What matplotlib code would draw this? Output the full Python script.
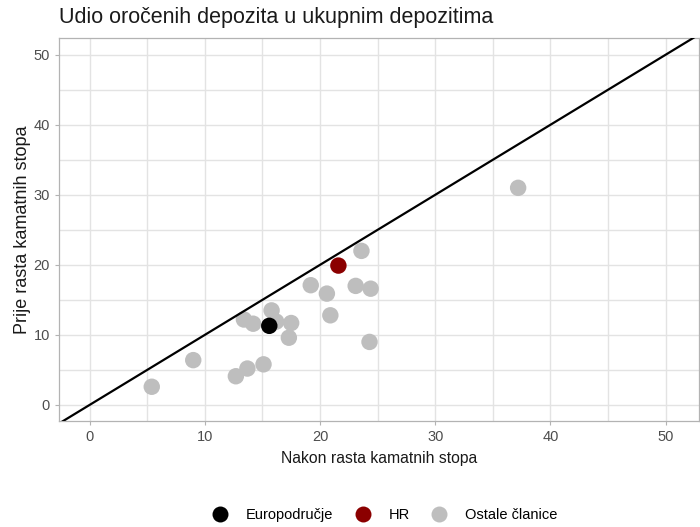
import matplotlib
matplotlib.use("Agg")
import matplotlib.pyplot as plt
from matplotlib.lines import Line2D
import numpy as np

plt.rcParams['font.family'] = ['Liberation Sans', 'DejaVu Sans']

# Data: x = after rate increase, y = before rate increase
other_x = [5.4, 9.0, 12.7, 13.7, 15.1, 13.4, 14.2, 15.8, 16.2, 17.5, 17.3,
           19.2, 20.6, 20.9, 23.6, 23.1, 24.4, 24.3, 37.2]
other_y = [2.6, 6.4, 4.1, 5.2, 5.8, 12.2, 11.6, 13.5, 11.9, 11.7, 9.6,
           17.1, 15.9, 12.8, 22.0, 17.0, 16.6, 9.0, 31.0]
ea_x = [15.6]
ea_y = [11.3]
hr_x = [21.6]
hr_y = [19.9]

categories = ["Europodručje", "HR", "Ostale članice"]
colors = ["#000000", "#8b0000", "#bebebe"]

fig = plt.figure(figsize=(7.0, 5.27), dpi=100)
ax = fig.add_axes([0.0843, 0.201, 0.9143, 0.727])

xlim = (-2.65, 52.9)
ylim = (-2.3, 52.4)
ax.set_xlim(*xlim)
ax.set_ylim(*ylim)

# grid
for v in np.arange(0, 55, 5):
    ax.axvline(v, color="#e3e3e3", lw=1.0, zorder=0)
    ax.axhline(v, color="#e3e3e3", lw=1.0, zorder=0)

ms = 140
ax.scatter(other_x, other_y, s=ms, color=colors[2], edgecolors="none", zorder=2)
ax.scatter(ea_x, ea_y, s=ms, color=colors[0], edgecolors="none", zorder=3)
ax.scatter(hr_x, hr_y, s=ms, color=colors[1], edgecolors="none", zorder=3)

# 45-degree line
lims = np.array([-5, 60])
ax.plot(lims, lims, color="black", lw=1.6, zorder=4)

ax.set_xticks([0, 10, 20, 30, 40, 50])
ax.set_yticks([0, 10, 20, 30, 40, 50])
ax.tick_params(axis="both", colors="#b3b3b3", labelcolor="#4d4d4d",
               labelsize=10.5, length=3, width=0.8)
for s in ax.spines.values():
    s.set_color("#b3b3b3")
    s.set_linewidth(0.9)

ax.set_xlabel("Nakon rasta kamatnih stopa", fontsize=11.3, color="#1a1a1a", labelpad=5)
ax.set_ylabel("Prije rasta kamatnih stopa", fontsize=13, color="#1a1a1a", labelpad=2)

fig.text(59/700, 1 - 18/527, "Udio oročenih depozita u ukupnim depozitima",
         fontsize=15.5, color="#1a1a1a", va="center", ha="left")

handles = [Line2D([0], [0], marker="o", linestyle="none", markersize=11.5,
                  markerfacecolor=c, markeredgecolor="none") for c in colors]
fig.legend(handles, categories, loc="center", bbox_to_anchor=(0.545, 1 - 515/527),
           ncol=3, frameon=False, fontsize=10.5, handletextpad=0.8,
           columnspacing=1.0)

fig.savefig("out.png", dpi=100)
